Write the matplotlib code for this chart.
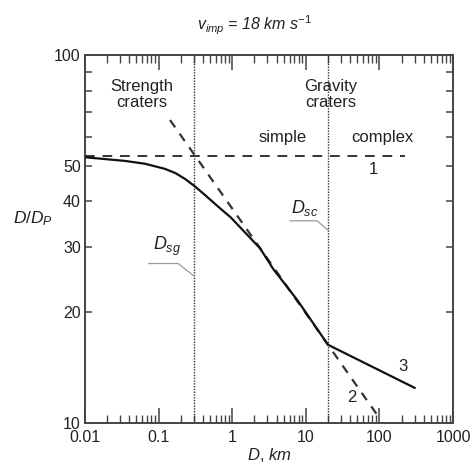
import matplotlib
matplotlib.use("Agg")
import matplotlib.pyplot as plt
from matplotlib.ticker import FixedLocator, NullLocator, LogLocator, NullFormatter


# ========================================
# DATA
# ========================================
# solid curve: crater / projectile diameter ratio
curve_d = [0.01, 0.0187, 0.035, 0.0654, 0.122, 0.17, 0.229, 0.312, 0.427,
           0.682, 0.95, 1.28, 2.39, 3.6, 7.6, 20.0, 300.0]
curve_ratio = [52.7, 52.1, 51.5, 50.6, 49.0, 47.7, 46.0, 43.9, 41.6,
               38.3, 36.2, 34.0, 29.8, 26.2, 21.6, 16.3, 12.45]

# line 1: strength regime asymptote
line1_d = [0.01, 220.0]
line1_ratio = [53.2, 53.2]

# line 2: gravity regime power law
line2_d = [0.143, 100.0]
line2_ratio = [66.5, 10.3]

# transition diameters
d_sg = 0.3
d_sc = 20.0

x_ticks = [0.01, 0.1, 1, 10, 100, 1000]
x_tick_labels = ["0.01", "0.1", "1", "10", "100", "1000"]

y_ticks = [10, 20, 30, 40, 50, 60, 70, 80, 90, 100]
y_tick_labels = ["10", "20", "30", "40", "50", "", "", "", "", "100"]


# ========================================
# STYLE
# ========================================
plt.rcParams["font.family"] = ["Liberation Sans", "DejaVu Sans"]
plt.rcParams["font.size"] = 11.5
plt.rcParams["mathtext.fontset"] = "custom"
plt.rcParams["mathtext.rm"] = "Liberation Sans"
plt.rcParams["mathtext.it"] = "Liberation Sans:italic"

TEXT = "#222222"
AXIS = "#444444"


# ========================================
# FIGURE
# ========================================
fig = plt.figure(figsize=(4.72, 4.73), dpi=100)

ax = fig.add_axes([0.180, 0.106, 0.780, 0.778])

ax.set_xscale("log")
ax.set_yscale("log")

ax.set_xlim(0.01, 1000)
ax.set_ylim(10, 100)


# ----- lines -----
ax.plot(
    curve_d,
    curve_ratio,
    color="#111111",
    lw=1.6,
    zorder=4
)

ax.plot(
    line1_d,
    line1_ratio,
    color="#333333",
    lw=1.4,
    dashes=(5, 4),
    zorder=3
)

ax.plot(
    line2_d,
    line2_ratio,
    color="#333333",
    lw=1.6,
    dashes=(4, 3.5),
    zorder=3
)

for xv in [d_sg, d_sc]:
    ax.axvline(
        xv,
        color="#333333",
        lw=1.0,
        dashes=(1, 1),
        zorder=2
    )


# ----- labels inside plot -----
ax.text(0.06, 78, "Strength\ncraters", ha="center", va="center",
        linespacing=1.05, color=TEXT, fontsize=12)
ax.text(22, 78, "Gravity\ncraters", ha="center", va="center",
        linespacing=1.05, color=TEXT, fontsize=12)

ax.text(4.9, 59.5, "simple", ha="center", va="center", color=TEXT,
        fontsize=12)
ax.text(108, 59.5, "complex", ha="center", va="center", color=TEXT,
        fontsize=12)

ax.text(82, 48.8, "1", ha="center", va="center", color=TEXT, fontsize=12)
ax.text(42.5, 11.7, "2", ha="center", va="center", color=TEXT, fontsize=12)
ax.text(209, 14.2, "3", ha="center", va="center", color=TEXT, fontsize=12)

ax.text(9.75, 38.4, r"$D_{sc}$", ha="center", va="center",
        color=TEXT, fontsize=13)
ax.text(0.13, 30.1, r"$D_{sg}$", ha="center", va="center",
        color=TEXT, fontsize=13)

# leader lines to the transition diameters
ax.plot([6.1, 14.2, 20.0], [35.4, 35.4, 33.4], color="#999999", lw=0.9)
ax.plot([0.074, 0.184, 0.3], [27.1, 27.1, 25.1], color="#999999", lw=0.9)


# ========================================
# AXES / TICKS
# ========================================
ax.xaxis.set_major_locator(FixedLocator(x_ticks))
ax.set_xticklabels(x_tick_labels)
ax.xaxis.set_minor_locator(LogLocator(base=10, subs=range(2, 10)))
ax.xaxis.set_minor_formatter(NullFormatter())

ax.yaxis.set_major_locator(FixedLocator(y_ticks))
ax.set_yticklabels(y_tick_labels)
ax.yaxis.set_minor_locator(NullLocator())

ax.tick_params(axis="x", which="major", direction="in", length=11,
               width=1.1, top=True, color=AXIS, labelcolor=TEXT,
               pad=5)
ax.tick_params(axis="x", which="minor", direction="in", length=6,
               width=1.0, top=True, color=AXIS)
ax.tick_params(axis="y", which="major", direction="in", length=5,
               width=1.1, right=True, color=AXIS, labelcolor=TEXT,
               pad=3)

for spine in ax.spines.values():
    spine.set_color(AXIS)
    spine.set_linewidth(1.4)

ax.set_xlabel(r"$D$, $km$", color=TEXT, labelpad=1, fontsize=12)
ax.set_ylabel(r"$D/D_P$", color=TEXT, rotation=0, fontsize=12.5)
ax.yaxis.set_label_coords(-0.14, 0.53)

fig.text(0.54, 0.947, r"$v_{imp}$ = 18 km s$^{-1}$", ha="center",
         va="center", color=TEXT, style="italic", fontsize=11.5)


# ========================================
# SAVE
# ========================================
fig.savefig("out.png", dpi=100)

print("Saved graph: out.png")
